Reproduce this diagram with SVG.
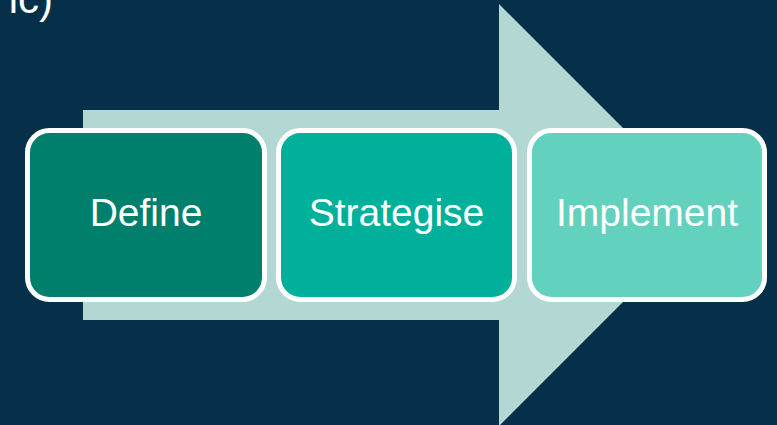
<svg xmlns="http://www.w3.org/2000/svg" width="777" height="425" viewBox="0 0 777 425">
<style>
.box{stroke:#FFFFFF;stroke-width:5}
.lbl{font-family:"Liberation Sans",Arial,sans-serif;font-size:39px;fill:#FFFFFF;text-anchor:middle}
</style>
<rect width="777" height="425" fill="#06304A"/>
<text x="53" y="13" style="font-family:'Liberation Sans',Arial,sans-serif;font-size:42px;fill:#FFFFFF;text-anchor:end">ic)</text>
<g id="connectors">
<polygon points="83,110 499,110 499,4 710,215 499,426 499,320 83,320" fill="#B3D7D3"/>
</g>
<g id="define">
<rect class="box" x="27.5" y="130.5" width="237" height="169" rx="22" fill="#007F6D"/>
<text class="lbl" x="146" y="226">Define</text>
</g>
<g id="strategise">
<rect class="box" x="278.5" y="130.5" width="236" height="169" rx="22" fill="#00B09B"/>
<text class="lbl" x="396.5" y="226">Strategise</text>
</g>
<g id="implement">
<rect class="box" x="529.5" y="130.5" width="235" height="169" rx="22" fill="#62D1BE"/>
<text class="lbl" x="647" y="226">Implement</text>
</g>
</svg>
